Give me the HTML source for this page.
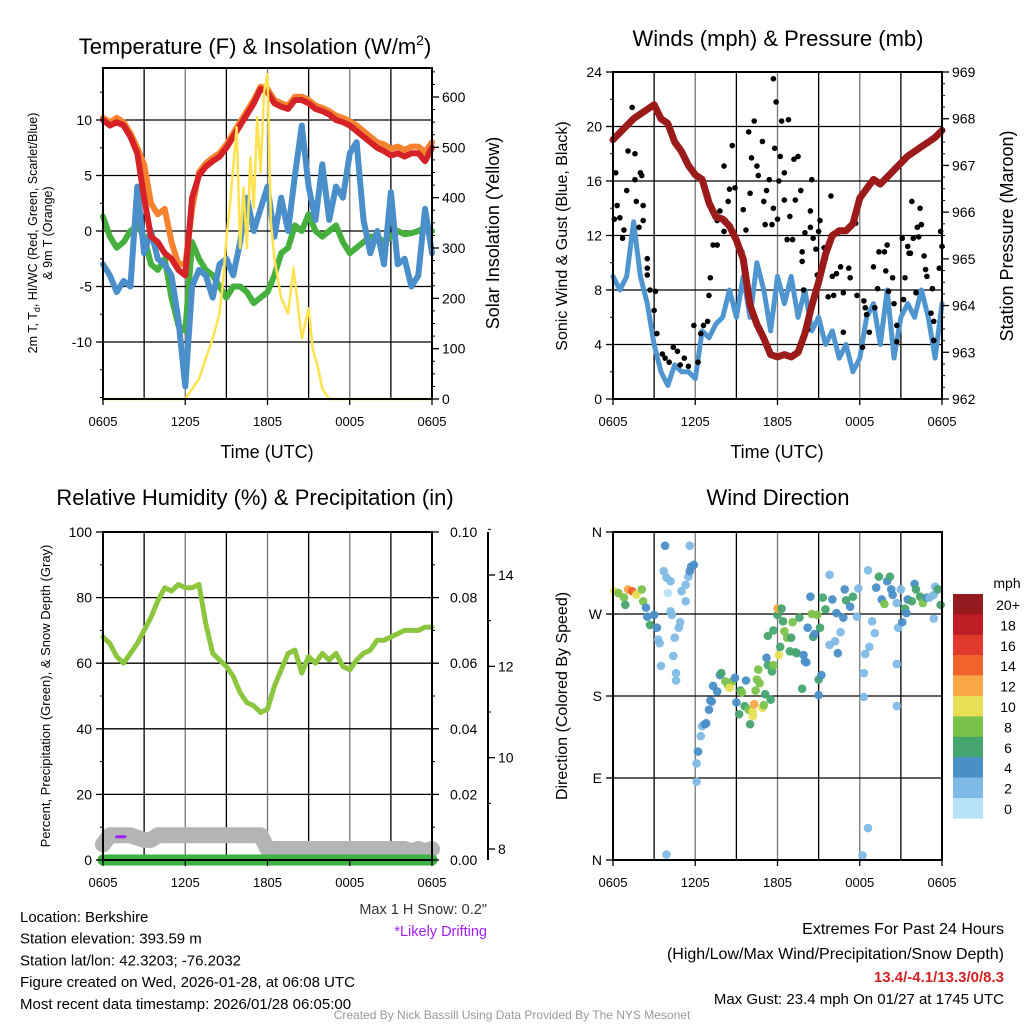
<!DOCTYPE html>
<html><head><meta charset="utf-8">
<style>
html,body{margin:0;padding:0;background:#fff;}
svg{display:block;font-family:"Liberation Sans",Arial,sans-serif;}
</style></head>
<body>
<svg id="fig" width="1024" height="1024" viewBox="0 0 1024 1024" xmlns="http://www.w3.org/2000/svg">
<rect width="1024" height="1024" fill="#fff"/>
<g id="layer"></g>
</svg>
<script>
// ---------- DATA ----------
const xTickLabels = ["0605","1205","1805","0005","0605"];
// half-hourly (0..24h) series
const tempRed = [10,9.5,9.8,9.5,8.5,7,3,-0.5,-1,-2,-2.5,-3.5,-4,3,5,5.8,6.3,6.7,7.5,8.5,9.5,10.5,11.5,12.8,12.5,11.5,11.2,11,11.8,11.8,11.5,11,10.8,10.5,10,9.8,9.5,9,8.5,8,7.5,7.2,6.8,7,6.7,7,7,6.3,7.5];
const tempOrange = [10.2,9.8,10.2,9.8,8.8,7.5,6,2.5,1.5,2,-1,-3,-3,2,5.3,6.1,6.6,7,7.8,8.8,9.8,10.8,11.8,13,12.8,11.8,11.5,11.3,12.1,12.1,11.8,11.3,11.1,10.8,10.4,10.2,9.9,9.5,9,8.5,8,7.8,7.4,7.6,7.3,7.6,7.6,7.1,8];
const dewGreen = [1.3,-0.5,-1.5,-1,0,0.5,-0.5,-3,-3.5,-2.5,-6,-8.5,-9,-1,-2.5,-3.5,-4,-5,-6,-5,-5,-5.5,-6.5,-6,-5.5,-4,-2,-1.5,0.5,0,1.5,0,-0.5,0,0.5,-1,-2,-1.5,-1,-0.5,-0.5,-1,-0.5,0,-0.3,-0.2,0,0.3,0];
const windChill = [-3,-4,-5.5,-4.5,-5,4,-2,0,-2.5,-3,-4,-8,-14,-5,-3.5,-4,-6,-3,-2.5,-4,-1,3,0,2,4,-0.5,3,0,5,9.5,4,1,6,1,4,3,7,8,1,-2,0,-3,3.5,-3,-2.5,-5,-4,2,-2];
const solarHours = [0,6,6.5,7,7.5,8,8.5,8.75,9,9.25,9.5,9.75,10,10.25,10.5,10.75,11,11.25,11.5,11.75,12,12.25,12.5,13,13.5,13.9,14.5,15,15.3,15.7,16,16.5,24];
const solarValues = [0,0,20,40,80,120,170,230,320,380,460,540,300,420,300,480,380,560,450,610,645,350,280,200,170,260,120,180,100,60,20,0,0];
const sonicWind = [9,8,9,13,9,7,4,2,1,2.5,2,2,1.5,5,4.5,5.5,6,8,6,9,6,10,8,5,9,7,9,6,8,5,6,4,5,3,4,2,3,6,7,4,8,3,6,7,6,8,6,3,7];
const pressure = [967.55,967.7,967.85,968.0,968.1,968.2,968.3,968.0,967.9,967.5,967.3,967.0,966.8,966.7,966.2,965.9,965.85,965.7,965.4,965.0,964.0,963.6,963.3,962.95,962.9,962.95,962.9,963.0,963.4,964.0,964.5,965.1,965.5,965.6,965.6,965.75,966.3,966.5,966.7,966.6,966.75,966.9,967.05,967.2,967.3,967.4,967.5,967.6,967.75];
const gustHours = [0.2,0.3,0.1,0.5,0.8,0.7,1.0,1.1,1.6,1.4,1.6,2.0,2.1,1.7,2.2,2.2,1.9,2.5,2.5,2.5,2.7,3.1,3.0,3.2,3.6,3.8,4.1,4.4,4.7,4.9,5.2,5.5,5.9,6.2,6.4,6.6,6.9,7.1,7.0,7.3,7.6,7.8,7.6,8.2,8.1,8.4,8.5,8.7,8.9,8.1,9.4,9.5,9.7,9.9,10.0,10.1,10.3,10.5,10.6,10.9,11.0,11.2,11.1,11.4,11.6,11.7,11.7,11.8,11.9,12.0,12.1,12.2,12.3,12.5,12.5,12.7,12.8,12.9,13.1,13.2,13.3,13.5,13.7,13.8,13.8,13.9,14.0,14.2,14.4,14.5,14.4,14.6,14.8,14.9,15.0,15.1,15.4,15.5,15.7,15.9,16.0,16.1,16.3,16.6,16.8,16.8,17.2,17.3,17.7,17.8,18.2,18.3,18.4,18.5,18.7,19.0,19.1,19.3,19.4,19.8,19.9,20.0,20.1,20.4,20.5,20.7,20.7,21.1,21.2,21.3,21.5,21.6,21.7,21.8,21.9,22.1,22.2,22.3,22.4,22.5,22.7,22.8,22.9,23.2,23.3,23.4,23.8,23.9,24.0,23.4];
const gustValues = [16.6,14.2,13.2,13.3,12.4,11.8,15.3,18.2,18.0,21.4,16.1,16.6,16.4,14.5,14.2,13.1,12.6,10.3,9.6,9.1,8.0,7.9,6.5,4.8,3.3,3.0,2.7,3.8,3.5,2.5,3.0,2.4,5.4,2.7,4.8,5.4,5.7,8.9,7.6,11.3,11.3,13.8,13.1,13.1,12.3,14.5,15.4,18.6,15.5,17.1,10.8,13.9,12.4,19.6,15.1,17.7,20.4,17.1,16.4,18.9,14.5,15.3,12.8,16.1,12.8,14.0,23.5,18.4,21.8,13.2,16.0,17.8,20.4,16.6,14.6,11.7,20.5,13.4,11.7,17.6,14.6,17.8,15.3,10.1,10.8,8.0,12.2,5.1,12.6,16.1,13.8,11.8,11.0,9.1,12.3,13.1,11.1,10.3,7.5,14.9,9.0,7.6,9.2,9.7,7.8,4.9,9.6,8.9,12.9,7.6,3.8,7.2,6.7,6.2,4.9,9.7,6.7,8.1,10.8,10.8,9.4,11.3,7.9,8.9,7.0,5.4,4.2,11.8,7.3,8.9,11.2,10.7,10.7,14.5,11.8,7.8,12.6,11.9,14.0,12.8,10.5,9.5,9.0,6.3,8.1,5.7,9.6,12.3,11.2,4.3];
const rhValues = [68,66,62,60,63,66,70,74,79,83,82,84,83,83,84,72,63,61,59,56,51,48,47,45,46,53,58,63,64,57,62,60,63,61,63,59,58,61,63,64,67,67,68,69,70,70,70,71,71];
const snowDepth = [8.1,8.3,8.3,8.3,8.3,8.25,8.2,8.2,8.3,8.3,8.3,8.3,8.3,8.3,8.3,8.3,8.3,8.3,8.3,8.3,8.3,8.3,8.3,8.3,8.0,8.0,8.0,8.0,8.0,8.0,8.0,8.0,8.0,8.0,8.0,8.0,8.0,8.0,8.0,8.0,8.0,8.0,8.0,8.0,8.0,7.95,8.0,7.95,8.0];
const precip = [0,0,0,0,0,0,0,0,0,0,0,0,0,0,0,0,0,0,0,0,0,0,0,0,0,0,0,0,0,0,0,0,0,0,0,0,0,0,0,0,0,0,0,0,0,0,0,0,0];
const driftHours = [1.0,1.6];
const driftDepth = [8.27,8.27];
const dirHours = [0.1,0.4,0.8,0.9,1.1,1.4,1.7,2.1,2.2,2.4,2.5,3.0,2.7,3.2,3.3,3.4,3.5,3.8,3.7,3.9,4.2,4.0,4.2,4.3,4.4,4.5,4.6,4.6,4.8,4.9,5.0,5.3,5.3,5.5,5.6,5.7,5.6,5.9,3.9,6.1,6.1,6.2,6.4,6.5,6.7,6.8,7.0,7.1,7.2,7.3,7.6,7.8,7.9,8.2,8.4,8.7,8.5,8.9,9.0,9.3,9.4,9.2,9.6,9.7,9.9,10.0,10.2,10.2,10.3,10.4,10.5,10.6,10.7,10.9,11.0,11.1,11.2,11.3,11.5,11.6,11.7,11.3,11.7,12.0,12.0,12.1,12.2,12.3,12.4,12.5,12.7,12.9,13.0,13.1,13.3,13.4,13.6,13.9,14.0,14.1,13.8,14.2,14.4,14.5,14.6,14.7,14.9,15.1,15.0,15.2,15.0,15.3,15.5,15.8,16.0,15.8,16.2,16.3,16.4,16.6,16.8,16.9,17.0,17.3,17.5,17.8,17.9,18.3,18.3,18.4,18.6,18.7,18.9,19.1,19.2,19.4,19.6,19.8,20.0,20.2,20.3,20.4,20.7,20.7,20.7,20.8,21.0,21.1,21.3,21.4,21.5,21.8,22.0,22.1,22.4,22.6,22.9,23.1,23.4,23.5,23.7,23.9,23.4,18.6,18.2];
const dirDegrees = [295,293,288,280,297,295,291,297,284,277,267,269,258,255,242,238,213,345,317,310,306,293,273,269,224,244,205,197,255,261,295,284,302,311,345,322,317,324,6,86,106,119,136,147,149,150,165,175,174,191,185,203,205,196,192,196,189,200,173,186,184,160,169,197,165,149,158,163,171,186,198,209,194,167,170,182,222,214,176,207,214,246,252,269,276,225,234,276,262,251,244,229,244,261,228,227,266,225,218,217,188,255,289,270,245,248,269,255,198,203,181,288,275,313,286,236,240,271,227,250,266,297,285,278,289,267,298,205,179,226,318,234,262,249,299,311,286,281,306,311,297,291,282,215,169,255,297,261,276,271,286,284,303,297,289,282,288,288,291,300,297,280,265,35,5];
const dirSpeeds = [10,7,7,6,12,13,10,8,8,4,4,3,6,3,2,1,1,3,1,1,1,0,1,1,2,2,2,2,2,2,1,2,2,2,2,3,3,4,2,1,1,3,2,2,4,4,4,4,4,4,4,4,6,8,8,8,10,4,4,6,8,6,6,4,8,6,10,10,12,8,8,8,8,10,8,6,4,6,6,6,8,6,6,6,12,10,6,6,6,8,8,6,6,8,6,6,6,4,4,4,6,4,4,8,6,4,8,6,6,4,4,6,6,2,4,2,2,4,4,2,4,4,6,4,6,2,2,2,2,2,2,1,2,2,4,6,4,8,4,6,4,4,2,2,2,2,2,4,6,4,4,6,4,6,6,8,4,2,2,2,6,6,2,1,2];
const cbLabels = ["20+","18","16","14","12","10","8","6","4","2","0"];
const cbColors = ["#951a1d","#c01e26","#e03a2c","#f2622b","#f8a744","#e7df55","#7bc24c","#47a56f","#4a8fc8","#7fbae6","#b7e2f7"];

// ---------- HELPERS ----------
const NS="http://www.w3.org/2000/svg";
const L=document.getElementById('layer');
function mk(tag,attrs,parent){const e=document.createElementNS(NS,tag);for(const k in attrs)e.setAttribute(k,attrs[k]);(parent||L).appendChild(e);return e;}
function txt(s,x,y,size,anchor,fill,extra){const t=mk('text',Object.assign({x:x,y:y,'font-size':size,'text-anchor':anchor||'middle',fill:fill||'#000'},extra||{}));t.textContent=s;return t;}
const halfHours=rhValues.map((_,i)=>i*0.5);
function axisX(x0,x1){return h=>x0+(x1-x0)*h/24;}
function axisY(y0,y1,v0,v1){return v=>y0+(y1-y0)*(v-v0)/(v1-v0);}
function pathD(xs,ys,fx,fy){return xs.map((h,i)=>(i?'L':'M')+fx(h).toFixed(1)+','+fy(ys[i]).toFixed(1)).join('');}
function frame(x0,y0,x1,y1,gridV,gridH,name){
  const g=mk('g',{});
  
  
  for(let k=1;k<8;k++){const x=x0+(x1-x0)*k/8;mk('line',{x1:x,x2:x,y1:y0,y2:y1,stroke:(k%2?'#000':'#777'),'stroke-width':1.3},g);}
  gridH.forEach(y=>mk('line',{x1:x0,x2:x1,y1:y,y2:y,stroke:'#000','stroke-width':1.3},g));
}
function border(x0,y0,x1,y1,name){const r=mk('rect',{x:x0,y:y0,width:x1-x0,height:y1-y0,fill:'none',stroke:'#000','stroke-width':2});
  
  }
function xLabels(x0,x1,yAxis,name){
  const g=mk('g',{});
  
  
  xTickLabels.forEach((s,i)=>{const x=x0+(x1-x0)*i/4;mk('line',{x1:x,x2:x,y1:yAxis,y2:yAxis+6,stroke:'#000','stroke-width':1.3},g);g.appendChild(txt(s,x,yAxis+27,13,'middle'));});
}
function leftTicks(x,vals,fy,fmt,minor,name){
  const g=mk('g',{});
  
  
  minor.forEach(v=>mk('line',{x1:x-3,x2:x,y1:fy(v),y2:fy(v),stroke:'#000','stroke-width':1},g));
  vals.forEach(v=>{mk('line',{x1:x-7,x2:x,y1:fy(v),y2:fy(v),stroke:'#000','stroke-width':1.3},g);g.appendChild(txt(fmt(v),x-11,fy(v)+5,14,'end'));});
}
function rightTicks(x,vals,fy,fmt,minor,name,dx){
  const g=mk('g',{});
  
  
  minor.forEach(v=>mk('line',{x1:x,x2:x+3,y1:fy(v),y2:fy(v),stroke:'#000','stroke-width':1},g));
  vals.forEach(v=>{mk('line',{x1:x,x2:x+7,y1:fy(v),y2:fy(v),stroke:'#000','stroke-width':1.3},g);g.appendChild(txt(fmt(v),x+(dx||12),fy(v)+5,14,'start'));});
}
function line(xs,ys,fx,fy,color,w,name,cap){const p=mk('path',{d:pathD(xs,ys,fx,fy),fill:'none',stroke:color,'stroke-width':w,'stroke-linejoin':'round','stroke-linecap':cap||'round'});
  
  return p;}
function range(a,b,s){const r=[];for(let v=a;v<=b+1e-9;v+=s)r.push(+v.toFixed(4));return r;}

// ---------- PANEL 1 ----------
{
  const x0=103,x1=432,y0=68,y1=399;
  const fx=axisX(x0,x1), fy=axisY(231,120,0,10), fs=axisY(399,97,0,600);
  frame(x0,y0,x1,y1,true,[10,5,0,-5,-10].map(fy),'temperature');
  line(halfHours,dewGreen,fx,fy,'#45b03e',6,'dewpoint-line');
  line(halfHours,windChill,fx,fy,'#4a8fc9',6,'wind-chill-line');
  line(halfHours,tempOrange,fx,fy,'#f5822e',6,'9m-temperature-line');
  line(halfHours,tempRed,fx,fy,'#d42226',6,'2m-temperature-line');
  line(solarHours,solarValues,fx,fs,'#ffe24d',2.5,'solar-insolation-line');
  border(x0,y0,x1,y1,'temperature');
  leftTicks(x0,[10,5,0,-5,-10],fy,v=>String(v),range(-15,14,2.5),'temperature-y-axis');
  rightTicks(x1,[0,100,200,300,400,500,600],fs,v=>String(v),range(0,650,25),'solar-y-axis',10);
  xLabels(x0,x1,y1,'temperature');
  const t=txt('Temperature (F) & Insolation (W/m',255,54,22,'middle');
  const s=mk('tspan',{dy:-9,'font-size':14},t);s.textContent='2';
  const s2=mk('tspan',{dy:9},t);s2.textContent=')';
  
  
  const xl=txt('Time (UTC)',267,458,18,'middle');
  
  
  const yl=txt('2m T, T',0,0,12.5,'middle',null,{transform:'translate(37,233) rotate(-90)'});
  const sub=mk('tspan',{dy:3,'font-size':9},yl);sub.textContent='d';
  const rest=mk('tspan',{dy:-3},yl);rest.textContent=', HI/WC (Red, Green, Scarlet/Blue)';
  
  
  const yl2=txt('& 9m T (Orange)',0,0,12.5,'middle',null,{transform:'translate(52,233) rotate(-90)'});
  
  
  const yr=txt('Solar Insolation (Yellow)',0,0,18,'middle',null,{transform:'translate(499,233) rotate(-90)'});
  
  
}

// ---------- PANEL 2 ----------
{
  const x0=613,x1=942,y0=72,y1=399;
  const fx=axisX(x0,x1), fy=axisY(y1,y0,0,24), fp=axisY(y1,y0,962,969);
  frame(x0,y0,x1,y1,true,[4,8,12,16,20].map(fy),'winds');
  line(halfHours,sonicWind,fx,fy,'#4f95d0',5,'sonic-wind-line');
  const g=mk('g',{});
  
  
  gustHours.forEach((h,i)=>{const c=mk('circle',{cx:fx(h),cy:fy(gustValues[i]),r:2.8,fill:'#000'},g);
    
    });
  line(halfHours,pressure,fx,fp,'#9b1a1a',7,'pressure-line');
  border(x0,y0,x1,y1,'winds');
  leftTicks(x0,[0,4,8,12,16,20,24],fy,v=>String(v),range(0,24,2),'wind-y-axis');
  rightTicks(x1,[962,963,964,965,966,967,968,969],fp,v=>String(v),range(962,969,0.25),'pressure-y-axis',10);
  xLabels(x0,x1,y1,'winds');
  const t=txt('Winds (mph) & Pressure (mb)',778,46,22,'middle');
  
  
  const xl=txt('Time (UTC)',777,458,18,'middle');
  
  
  const yl=txt('Sonic Wind & Gust (Blue, Black)',0,0,16,'middle',null,{transform:'translate(567,236) rotate(-90)'});
  
  
  const yr=txt('Station Pressure (Maroon)',0,0,18,'middle',null,{transform:'translate(1013,236) rotate(-90)'});
  
  
}

// ---------- PANEL 3 ----------
{
  const x0=103,x1=432,y0=532,y1=860;
  const fx=axisX(x0,x1), fy=axisY(y1,y0,0,100), fpr=axisY(y1,y0,0,0.10), fsn=axisY(849,575,8,14);
  frame(x0,y0,x1,y1,true,[20,40,60,80].map(fy),'humidity');
  line(halfHours,snowDepth,fx,fsn,'#b4b4b4',16,'snow-depth-line');
  line(driftHours,driftDepth,fx,fsn,'#a020f0',3,'likely-drifting-marker');
  line(halfHours,rhValues,fx,fy,'#8cc63f',5,'relative-humidity-line');
  line(halfHours,precip,fx,fpr,'#3cb043',11,'precipitation-line');
  border(x0,y0,x1,y1,'humidity');
  leftTicks(x0,[0,20,40,60,80,100],fy,v=>String(v),range(0,100,10),'humidity-y-axis');
  rightTicks(x1,[0,0.02,0.04,0.06,0.08,0.10],fpr,v=>v.toFixed(2),range(0,0.1,0.01),'precip-y-axis',18);
  const ax=mk('line',{x1:488,x2:488,y1:532,y2:860,stroke:'#000','stroke-width':2});
  
  
  rightTicks(488,[8,10,12,14],fsn,v=>String(v),range(8,15,1),'snow-depth-y-axis',10);
  xLabels(x0,x1,y1,'humidity');
  const t=txt('Relative Humidity (%) & Precipitation (in)',255,505,22,'middle');
  
  
  const yl=txt('Percent, Precipitation (Green), & Snow Depth (Gray)',0,0,13,'middle',null,{transform:'translate(50,696) rotate(-90)'});
  
  
}

// ---------- PANEL 4 ----------
{
  const x0=613,x1=942,y0=532,y1=860;
  const fx=axisX(x0,x1), fy=axisY(y1,y0,0,360);
  frame(x0,y0,x1,y1,true,[90,180,270].map(fy),'direction');
  const g=mk('g',{});
  
  
  dirHours.forEach((h,i)=>{const idx=Math.max(0,Math.min(10,10-Math.round(dirSpeeds[i]/2)));
    const c=mk('circle',{cx:fx(h),cy:fy(dirDegrees[i]),r:4.3,fill:cbColors[idx],'fill-opacity':0.95},g);
    
    });
  border(x0,y0,x1,y1,'direction');
  leftTicks(x0,[0,90,180,270,360],fy,v=>['N','E','S','W','N'][v/90],[],'direction-y-axis');
  xLabels(x0,x1,y1,'direction');
  const t=txt('Wind Direction',778,505,22,'middle');
  
  
  const yl=txt('Direction (Colored By Speed)',0,0,16,'middle',null,{transform:'translate(567,696) rotate(-90)'});
  
  
  const cb=mk('g',{});
  
  
  cbColors.forEach((c,i)=>{mk('rect',{x:953,y:594+i*20.4,width:30,height:20.6,fill:c},cb);
    cb.appendChild(txt(cbLabels[i],1008,594+i*20.4+16,14,'middle'));});
  cb.appendChild(txt('mph',1007,588,14,'middle'));
}

// ---------- TEXT BLOCKS ----------
{
  const info=["Location: Berkshire","Station elevation: 393.59 m","Station lat/lon: 42.3203; -76.2032","Figure created on Wed, 2026-01-28, at 06:08 UTC","Most recent data timestamp: 2026/01/28 06:05:00"];
  const g=mk('g',{});
  
  
  info.forEach((s,i)=>g.appendChild(txt(s,20,922+i*21.7,15,'start')));
  const a=txt('Max 1 H Snow: 0.2"',487,914,14.5,'end','#333');
  
  
  const b=txt('*Likely Drifting',487,936,14.5,'end','#a020f0');
  
  
  const r=mk('g',{});
  
  
  r.appendChild(txt('Extremes For Past 24 Hours',1004,934,16,'end'));
  r.appendChild(txt('(High/Low/Max Wind/Precipitation/Snow Depth)',1004,959,16,'end'));
  r.appendChild(txt('13.4/-4.1/13.3/0/8.3',1004,982,15,'end','#d42226',{'font-weight':'bold'}));
  r.appendChild(txt('Max Gust: 23.4 mph On 01/27 at 1745 UTC',1004,1004,15,'end'));
  const f=txt('Created By Nick Bassill Using Data Provided By The NYS Mesonet',512,1019,12,'middle','#999');
  
  
}
</script>
</body></html>
